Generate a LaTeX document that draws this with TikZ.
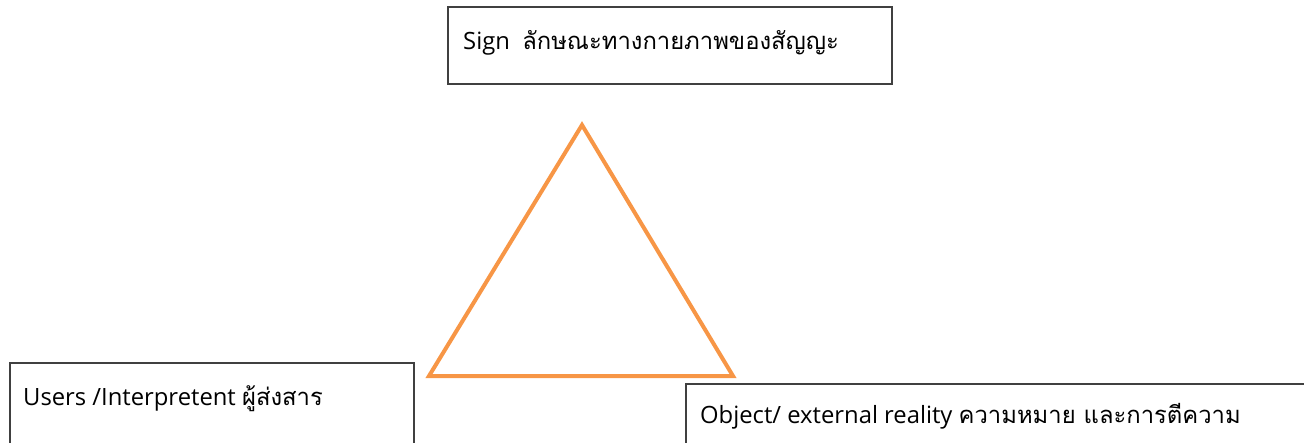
\documentclass[tikz,border=0pt]{standalone}
\usepackage{fontspec}
\setmainfont{Open Sans}
\newfontfamily\thai[Script=Thai]{Loma}
\begin{document}
\begin{tikzpicture}[x=1pt,y=-1pt,
  box/.style={draw=black!75,line width=1.5pt,rectangle,inner sep=0pt,anchor=north west},
  lbl/.style={anchor=base west,inner sep=0pt,font=\fontsize{23.8}{28}\selectfont}]
\definecolor{triorange}{HTML}{F79646}
\useasboundingbox (0,0) rectangle (1304,442);
\node[box,minimum width=444pt,minimum height=77pt] (sign) at (447,6) {};
\node[box,minimum width=404pt,minimum height=100pt] (users) at (9,362) {};
\node[box,minimum width=640pt,minimum height=80pt] (object) at (685,383) {};
\node[lbl] (signT) at ([xshift=16pt,yshift=-43pt]sign.north west) {Sign\ \ {\thai ลักษณะทางกายภาพของสัญญะ}};
\node[lbl] (usersT) at ([xshift=14pt,yshift=-43pt]users.north west) {Users /Interpretent {\thai ผู้ส่งสาร}};
\node[lbl] (objectT) at ([xshift=15pt,yshift=-40pt]object.north west) {Object/ external reality {\thai ความหมาย และการตีความ}};
\coordinate (A) at (582,125);
\coordinate (B) at (429,376);
\coordinate (C) at (733,376);
\draw[draw=triorange,line width=4pt] (A) -- (B) -- (C) -- cycle;
\end{tikzpicture}
\end{document}
